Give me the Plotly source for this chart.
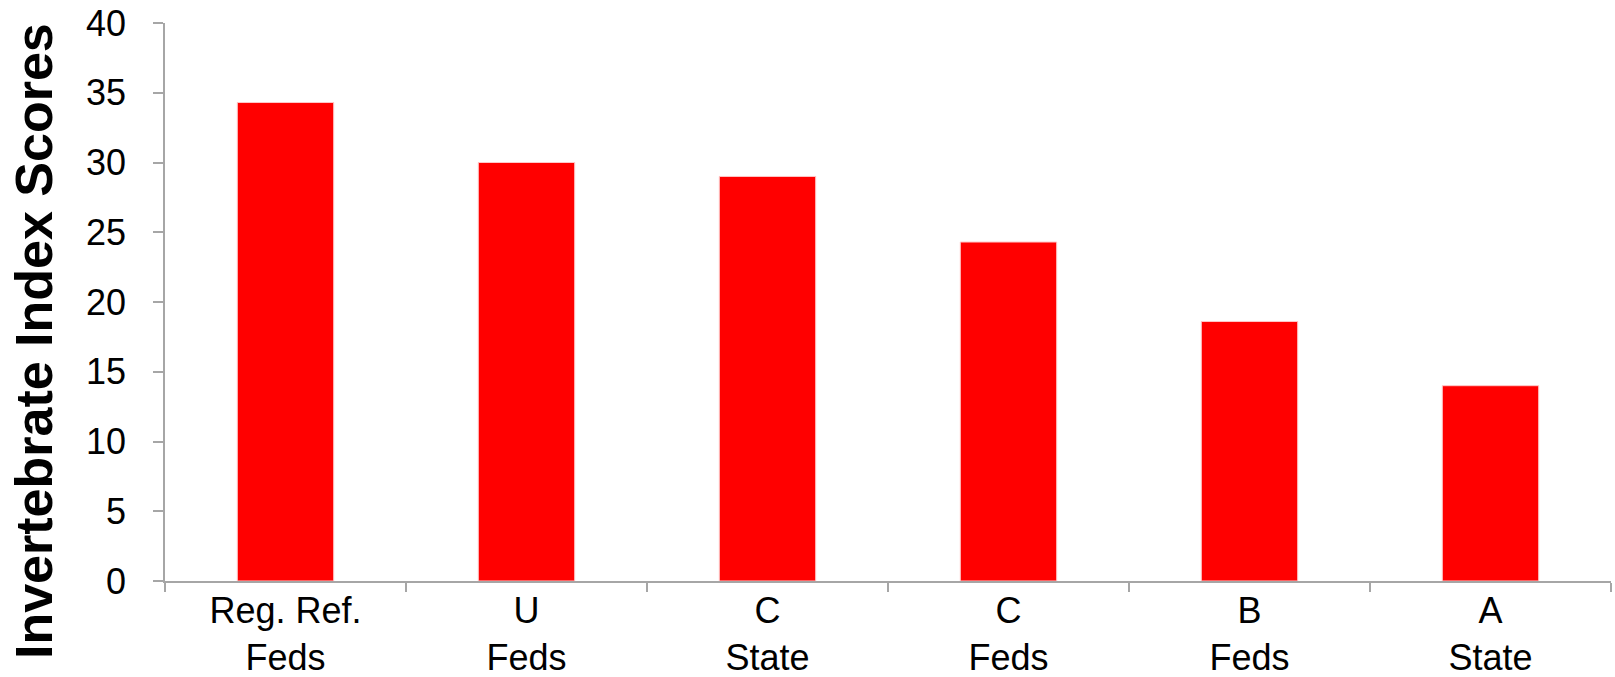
import plotly.graph_objects as go

# Site groups (class / agency) and their mean invertebrate index scores
categories = ["Reg. Ref.<br>Feds", "U<br>Feds", "C<br>State", "C<br>Feds", "B<br>Feds", "A<br>State"]
scores = [34.3, 30.0, 29.0, 24.3, 18.6, 14.0]
y_ticks = [0, 5, 10, 15, 20, 25, 30, 35, 40]

axis_grey = "#a6a6a6"
font_family = "Liberation Sans, Arial, sans-serif"

fig = go.Figure(
    go.Bar(
        x=categories,
        y=scores,
        width=0.4,
        marker=dict(color="#ff0000", line=dict(color="#ffc8c8", width=1)),
    )
)

fig.update_layout(
    width=1615,
    height=677,
    margin=dict(l=165, r=4, t=23, b=96),
    paper_bgcolor="white",
    plot_bgcolor="white",
    showlegend=False,
    font=dict(family=font_family, color="black"),
)

fig.update_xaxes(
    automargin=False,
    showline=True,
    linecolor=axis_grey,
    linewidth=2,
    ticks="outside",
    tickson="boundaries",
    ticklen=9,
    tickcolor=axis_grey,
    tickwidth=1.5,
    ticklabelstandoff=-3,
    tickfont=dict(size=36, family=font_family, color="black"),
    showgrid=False,
)

fig.update_yaxes(
    automargin=False,
    range=[0, 40],
    tickvals=y_ticks,
    showline=True,
    linecolor=axis_grey,
    linewidth=1.5,
    ticks="outside",
    ticklen=10,
    tickcolor=axis_grey,
    tickwidth=1.5,
    ticklabelstandoff=20,
    tickfont=dict(size=36, family=font_family, color="black"),
    showgrid=False,
    zeroline=False,
)

fig.add_annotation(
    text="<b>Invertebrate Index Scores</b>",
    textangle=-90,
    xref="paper",
    yref="paper",
    x=(34 - 165) / 1446,
    y=(580.7 - 341) / 557.4,
    xanchor="center",
    yanchor="middle",
    showarrow=False,
    font=dict(size=52, family=font_family, color="black"),
)

fig.write_html("out.html")
